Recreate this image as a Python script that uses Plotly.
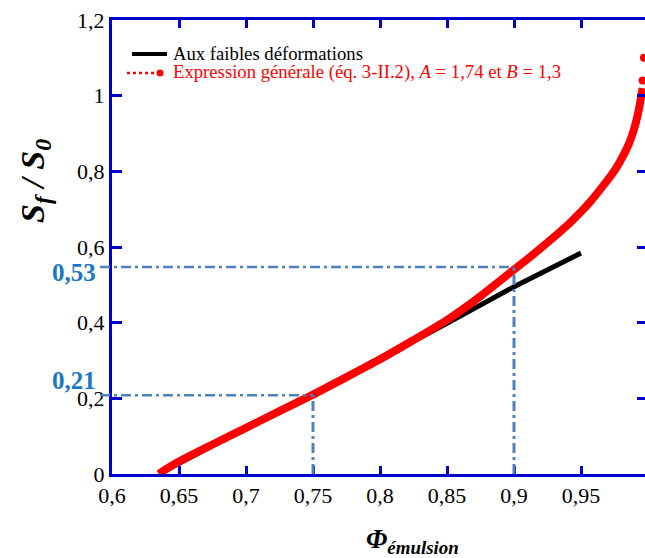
import plotly.graph_objects as go

# ---- data ----
phi_black = [0.635, 0.70, 0.75, 0.80, 0.85, 0.90, 0.95]
sf_black = [0.0, 0.122, 0.212, 0.303, 0.398, 0.495, 0.584]

phi_red = [0.635, 0.64, 0.65, 0.675, 0.70, 0.725, 0.75, 0.775, 0.80, 0.825, 0.85, 0.875,
           0.90, 0.91, 0.92, 0.93, 0.94, 0.95, 0.957, 0.965, 0.972, 0.977, 0.982,
           0.986, 0.989, 0.991, 0.993, 0.995, 0.996]
sf_red = [0.0, 0.012, 0.033, 0.078, 0.122, 0.166, 0.21, 0.256, 0.303, 0.354, 0.407, 0.47,
          0.54, 0.568, 0.597, 0.627, 0.658, 0.693, 0.72, 0.755, 0.787, 0.813, 0.845,
          0.875, 0.905, 0.93, 0.96, 1.0, 1.02]
phi_red_tail = [0.996, 0.997]
sf_red_tail = [1.04, 1.10]

ref_phi = [0.75, 0.90]
ref_sf = [0.208, 0.547]
ref_labels = ["0,21", "0,53"]

x_ticks = [0.6, 0.65, 0.7, 0.75, 0.8, 0.85, 0.9, 0.95]
x_ticktext = ["0,6", "0,65", "0,7", "0,75", "0,8", "0,85", "0,9", "0,95"]
y_ticks = [0, 0.2, 0.4, 0.6, 0.8, 1.0, 1.2]
y_ticktext = ["0", "0,2", "0,4", "0,6", "0,8", "1", "1,2"]

name_black = "Aux faibles déformations"
name_red = "Expression générale (éq. 3-II.2), <i>A</i> = 1,74 et <i>B</i> = 1,3"

# ---- geometry (window pixels) ----
W, H = 645, 558
PL, PR, PT, PB = 112, 645, 20, 474          # plot box in window pixels
ML, MR, MT, MB = PL, W - PR, PT, H - PB
X0 = 0.6
PX_PER_UNIT = 1340.0
XMAX = X0 + (PR - PL) / PX_PER_UNIT

def px_x(px):   # window pixel x -> paper
    return (px - PL) / (PR - PL)

def px_y(py):   # window pixel y -> paper
    return (PB - py) / (PB - PT)

def xpaper(v):
    return (v - X0) / (XMAX - X0)

AX = "#0000CC"
REF = "#4F81BD"
LAB = "#1C78C4"
RED = "#ff0000"
FONT = "Liberation Serif, Times New Roman, serif"
DASHDOT = "10px,4px,3px,4px"

fig = go.Figure()

fig.add_trace(go.Scatter(x=phi_black, y=sf_black, mode="lines", name=name_black,
                         line=dict(color="black", width=5), showlegend=False))
fig.add_trace(go.Scatter(x=phi_red, y=sf_red, mode="lines", name="Expression générale",
                         showlegend=False, line=dict(color=RED, width=8, shape="spline",
                                                     smoothing=0.6),
                         cliponaxis=False))
fig.add_trace(go.Scatter(x=phi_red_tail, y=sf_red_tail, mode="markers", showlegend=False,
                         marker=dict(color=RED, size=8), cliponaxis=False))

# reference dash-dot lines and labels
for px, py, lab, shift in zip(ref_phi, ref_sf, ref_labels, [15, -5]):
    fig.add_shape(type="line", xref="paper", yref="y", x0=px_x(100), x1=xpaper(px),
                  y0=py, y1=py, line=dict(color=REF, width=2.5, dash=DASHDOT))
    fig.add_shape(type="line", xref="x", yref="y", x0=px, x1=px, y0=0, y1=py,
                  line=dict(color=REF, width=3, dash=DASHDOT))
    fig.add_annotation(xref="paper", yref="y", x=px_x(98), y=py, text=f"<b>{lab}</b>",
                       showarrow=False, xanchor="right", yanchor="middle", yshift=shift,
                       font=dict(family=FONT, size=25, color=LAB))

# legend (drawn manually to match the reference spacing)
fig.add_shape(type="line", xref="paper", yref="paper", x0=px_x(132), x1=px_x(167),
              y0=px_y(54), y1=px_y(54), line=dict(color="black", width=4))
fig.add_shape(type="line", xref="paper", yref="paper", x0=px_x(127), x1=px_x(154),
              y0=px_y(73), y1=px_y(73), line=dict(color=RED, width=2.5, dash="dot"))
fig.add_shape(type="circle", xref="paper", yref="paper", x0=px_x(156.5), x1=px_x(163.5),
              y0=px_y(76.5), y1=px_y(69.5), line=dict(color=RED, width=0), fillcolor=RED)
fig.add_annotation(xref="paper", yref="paper", x=px_x(171), y=px_y(53), text=name_black,
                   showarrow=False, xanchor="left", yanchor="middle",
                   font=dict(family=FONT, size=18.7, color="black"))
fig.add_annotation(xref="paper", yref="paper", x=px_x(171), y=px_y(72), text=name_red,
                   showarrow=False, xanchor="left", yanchor="middle",
                   font=dict(family=FONT, size=18.7, color=RED))

# axis titles
fig.add_annotation(xref="paper", yref="paper", x=px_x(35), y=px_y(181),
                   text="<b><i>S<sub>f</sub> / S<sub>0</sub></i></b>", textangle=-90,
                   showarrow=False, xanchor="center", yanchor="middle",
                   font=dict(family=FONT, size=34, color="black"))
fig.add_annotation(xref="paper", yref="paper", x=px_x(412), y=px_y(541),
                   text="<b><i>Φ<sub>émulsion</sub></i></b>",
                   showarrow=False, xanchor="center", yanchor="middle",
                   font=dict(family=FONT, size=27, color="black"))

fig.update_layout(
    width=W, height=H,
    margin=dict(l=ML, r=MR, t=MT, b=MB, pad=0),
    paper_bgcolor="white", plot_bgcolor="white",
    font=dict(family=FONT, size=22, color="black"),
    showlegend=False,
    xaxis=dict(range=[X0, XMAX], tickvals=x_ticks, ticktext=x_ticktext,
               showline=True, linecolor=AX, linewidth=3, mirror="ticks",
               ticks="inside", ticklen=8, tickwidth=3, tickcolor=AX,
               showgrid=False, zeroline=False, ticklabelstandoff=0,
               ticklabeloverflow="allow"),
    yaxis=dict(range=[0, 1.2], tickvals=y_ticks, ticktext=y_ticktext,
               showline=True, linecolor=AX, linewidth=3, mirror=False,
               ticks="inside", ticklen=10, tickwidth=3, tickcolor=AX,
               showgrid=False, zeroline=False, ticklabelstandoff=0,
               ticklabeloverflow="allow"),
    yaxis2=dict(range=[0, 1.2], overlaying="y", side="right", matches="y",
                tickvals=y_ticks, showticklabels=False, showline=False,
                ticks="inside", ticklen=8, tickwidth=3, tickcolor=AX,
                showgrid=False, zeroline=False),
)
fig.add_trace(go.Scatter(x=[None], y=[None], yaxis="y2", showlegend=False))

fig.write_html(
    "out.html",
    config={"displayModeBar": False},
    post_script="document.body.style.margin='0';document.body.style.overflow='hidden';",
)
